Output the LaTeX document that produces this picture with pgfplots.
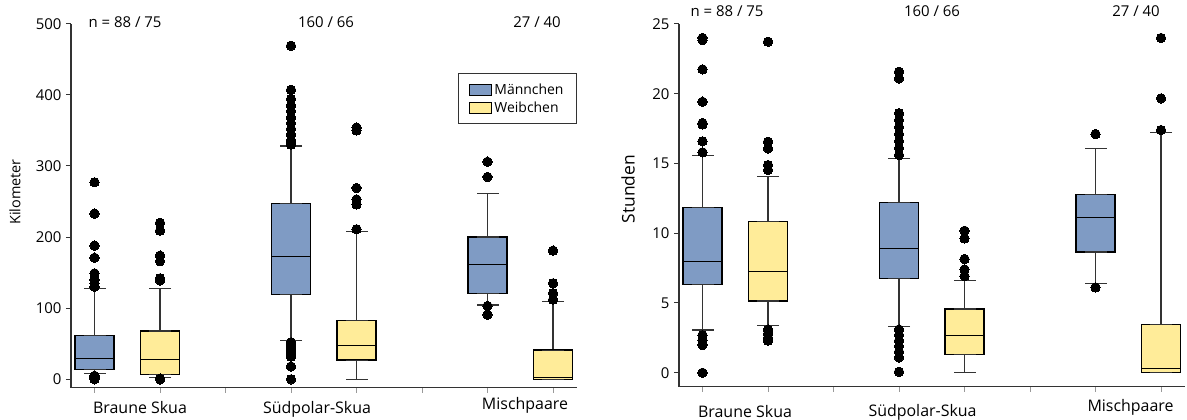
\documentclass[border=0pt]{standalone}
\usepackage{pgfplots}
\pgfplotsset{compat=1.18}
\usepackage{fontspec}
\setmainfont{Open Sans}
\definecolor{mblue}{HTML}{7F9BC4}
\definecolor{fyel}{HTML}{FFEC99}
\definecolor{axgray}{HTML}{333333}
\newcommand{\tfont}{\fontsize{15}{17}\selectfont}
\newcommand{\cfont}{\fontsize{16}{18}\selectfont}
\pgfplotsset{
  skua/.style={
    scale only axis, width=506bp, clip=false,
    xmin=-0.2863, xmax=2.2887,
    axis x line*=bottom, axis y line*=left,
    axis line style={axgray, line width=1.2bp},
    xtick={-0.1667,0.1667,0.5,0.8333,1.1667,1.5,1.8333,2.1667},
    xticklabels={},
    tick align=outside,
    x tick style={axgray!50, line width=0.6bp},
    y tick style={axgray, line width=1bp},
    major tick length=5bp,
    yticklabel style={font=\tfont, xshift=-1bp},
    /pgf/number format/assume math mode=true,
  },
  whisk/.style={axgray, line width=1.2bp, mark=-, mark size=11bp, mark options={solid, axgray, line width=1.2bp}},
  boxst/.style={draw=black, line width=1.4bp, line join=miter},
  medst/.style={black, line width=1bp},
  outl/.style={only marks, mark=*, mark size=4.7bp, mark options={fill=black, draw=black, line width=0pt}},
}
% #1 centre, #2 left, #3 right, #4 lower whisker, #5 lower quartile, #6 median, #7 upper quartile, #8 upper whisker, #9 fill
\newcommand{\bx}[9]{%
  \addplot[whisk] coordinates {(#1,#7) (#1,#8)};
  \addplot[whisk] coordinates {(#1,#5) (#1,#4)};
  \addplot[boxst, fill=#9] coordinates {(#2,#5) (#3,#5) (#3,#7) (#2,#7)} -- cycle;
  \addplot[medst] coordinates {(#2,#6) (#3,#6)};
}
\begin{document}
\begin{tikzpicture}
\path[use as bounding box] (0,0) rectangle (1187bp,420bp);
% ---------------- left panel: Kilometer ----------------
\begin{axis}[skua, at={(71bp,32.3bp)}, anchor=south west, height=364bp,
  ymin=-11.8, ymax=500, ytick={0,100,200,300,400,500},
  legend style={at={(1,0.8646)}, anchor=north east, draw=axgray, line width=1bp,
    font=\fontsize{14}{17}\selectfont, inner xsep=11bp, inner ysep=8bp,
    row sep=2bp, cells={anchor=west}},
  legend image code/.code={\draw[#1] (0bp,-5.5bp) rectangle (22bp,5.5bp);},
]
\addlegendimage{draw=black, fill=mblue, line width=1bp}
\addlegendentry{Männchen}
\addlegendimage{draw=black, fill=fyel, line width=1bp}
\addlegendentry{Weibchen}
\pgfplotsset{every axis plot/.append style={forget plot}}
\bx{-0.1667}{-0.2667}{-0.0667}{8}{14}{29}{62}{127.5}{mblue}
\addplot[outl] coordinates {(-0.1667,277) (-0.1667,233) (-0.1667,188) (-0.1667,171) (-0.1667,149) (-0.1667,140) (-0.1667,135) (-0.1667,130) (-0.1667,5) (-0.1667,3) (-0.1667,1) (-0.1667,0)};
\bx{0.1667}{0.0667}{0.2667}{3}{7}{28}{68}{128}{fyel}
\addplot[outl] coordinates {(0.1667,220) (0.1667,209) (0.1667,174) (0.1667,166) (0.1667,142) (0.1667,139) (0.1667,1) (0.1667,0)};
\bx{0.8333}{0.7333}{0.9333}{55}{119.5}{173}{247.5}{328}{mblue}
\addplot[outl] coordinates {(0.8333,469) (0.8333,407) (0.8333,394) (0.8333,385) (0.8333,377) (0.8333,368) (0.8333,360) (0.8333,352) (0.8333,344) (0.8333,336) (0.8333,330) (0.8333,52) (0.8333,48) (0.8333,44) (0.8333,40) (0.8333,36) (0.8333,32) (0.8333,18) (0.8333,0)};
\bx{1.1667}{1.0667}{1.2667}{0}{27}{47}{83}{207.5}{fyel}
\addplot[outl] coordinates {(1.1667,354) (1.1667,350) (1.1667,269) (1.1667,253) (1.1667,246) (1.1667,211)};
\bx{1.8333}{1.7333}{1.9333}{104.5}{121}{161}{200}{261}{mblue}
\addplot[outl] coordinates {(1.8333,306) (1.8333,284.5) (1.8333,103) (1.8333,91)};
\bx{2.1667}{2.0667}{2.2667}{0}{0}{2}{41}{109}{fyel}
\addplot[outl] coordinates {(2.1667,181) (2.1667,135) (2.1667,121) (2.1667,112)};
\end{axis}
% ---------------- right panel: Stunden ----------------
\begin{axis}[skua, at={(679bp,33.3bp)}, anchor=south west, height=362.7bp,
  ymin=-1.0, ymax=25, ytick={0,5,10,15,20,25}]
\bx{-0.1667}{-0.2667}{-0.0667}{3.06}{6.31}{7.99}{11.86}{15.6}{mblue}
\addplot[outl] coordinates {(-0.1667,24.0) (-0.1667,23.85) (-0.1667,21.75) (-0.1667,19.43) (-0.1667,17.9) (-0.1667,17.8) (-0.1667,16.59) (-0.1667,15.8) (-0.1667,2.7) (-0.1667,2.34) (-0.1667,1.99) (-0.1667,0)};
\bx{0.1667}{0.0667}{0.2667}{3.37}{5.14}{7.24}{10.83}{14.05}{fyel}
\addplot[outl] coordinates {(0.1667,23.73) (0.1667,16.56) (0.1667,16.08) (0.1667,14.89) (0.1667,14.53) (0.1667,3.1) (0.1667,2.8) (0.1667,2.5) (0.1667,2.3)};
\bx{0.8333}{0.7333}{0.9333}{3.3}{6.77}{8.92}{12.19}{15.37}{mblue}
\addplot[outl] coordinates {(0.8333,21.58) (0.8333,21.1) (0.8333,18.6) (0.8333,18.1) (0.8333,17.6) (0.8333,17.1) (0.8333,16.6) (0.8333,16.1) (0.8333,15.6) (0.8333,3.1) (0.8333,2.7) (0.8333,2.3) (0.8333,1.9) (0.8333,1.5) (0.8333,1.1) (0.8333,0.07)};
\bx{1.1667}{1.0667}{1.2667}{0}{1.32}{2.65}{4.57}{6.6}{fyel}
\addplot[outl] coordinates {(1.1667,10.18) (1.1667,9.63) (1.1667,8.15) (1.1667,7.41) (1.1667,6.93)};
\bx{1.8333}{1.7333}{1.9333}{6.41}{8.65}{11.14}{12.76}{16.06}{mblue}
\addplot[outl] coordinates {(1.8333,17.11) (1.8333,6.12)};
\bx{2.1667}{2.0667}{2.2667}{0}{0}{0.31}{3.47}{17.2}{fyel}
\addplot[outl] coordinates {(2.1667,24.0) (2.1667,19.67) (2.1667,17.4)};
\end{axis}
% ---------------- texts ----------------
\node[rotate=90, font=\fontsize{14.5}{16}\selectfont] at (15bp,228bp) {Kilometer};
\node[rotate=90, font=\fontsize{17.5}{19}\selectfont] at (628bp,231bp) {Stunden};
\begin{scope}[every node/.style={font=\tfont}]
\node at (125bp,398bp) {n = 88 / 75};
\node at (326bp,398bp) {160 / 66};
\node at (537bp,398bp) {27 / 40};
\node at (727bp,409bp) {n = 88 / 75};
\node at (932bp,409bp) {160 / 66};
\node at (1136bp,409bp) {27 / 40};
\end{scope}
\begin{scope}[every node/.style={font=\cfont}]
\node at (140bp,12bp) {Braune Skua};
\node at (317bp,11bp) {Südpolar-Skua};
\node at (525bp,15bp) {Mischpaare};
\node at (745bp,8bp) {Braune Skua};
\node at (922.5bp,8bp) {Südpolar-Skua};
\node at (1130.5bp,13bp) {Mischpaare};
\end{scope}
\end{tikzpicture}
\end{document}
